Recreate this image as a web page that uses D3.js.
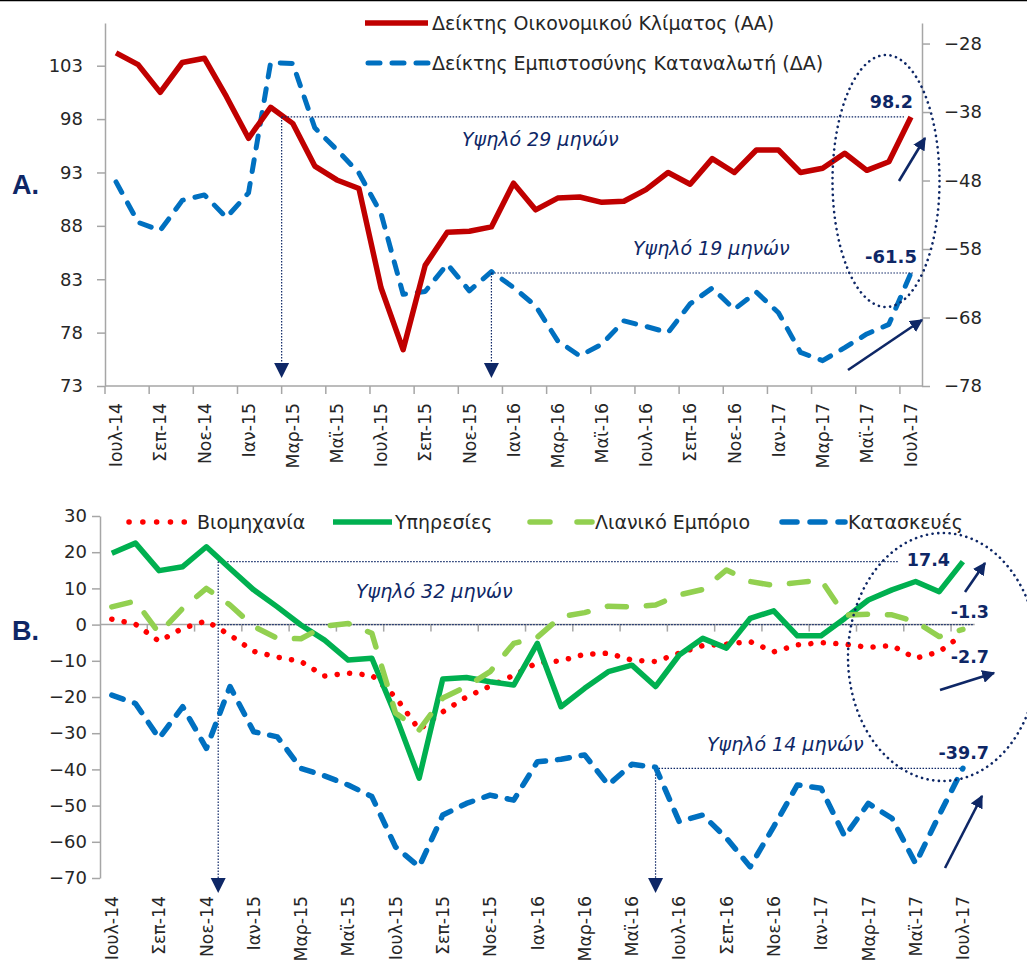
<!DOCTYPE html>
<html><head><meta charset="utf-8">
<script src="https://cdn.jsdelivr.net/npm/d3@7"></script>
<style>
body{margin:0;background:#fff}
svg{display:block}
text{font-family:"DejaVu Sans",sans-serif}
</style>
</head><body>
<svg id="chart" width="1027" height="963"></svg>
<script>
// ---------- DATA ----------
const months = ["Ιουλ-14","Αυγ-14","Σεπ-14","Οκτ-14","Νοε-14","Δεκ-14","Ιαν-15","Φεβ-15","Μαρ-15","Απρ-15","Μαϊ-15","Ιουν-15",
"Ιουλ-15","Αυγ-15","Σεπ-15","Οκτ-15","Νοε-15","Δεκ-15","Ιαν-16","Φεβ-16","Μαρ-16","Απρ-16","Μαϊ-16","Ιουν-16",
"Ιουλ-16","Αυγ-16","Σεπ-16","Οκτ-16","Νοε-16","Δεκ-16","Ιαν-17","Φεβ-17","Μαρ-17","Απρ-17","Μαϊ-17","Ιουν-17","Ιουλ-17"];

// Panel A
const econClimate = [104.2,103.1,100.5,103.3,103.7,100.1,96.2,99.1,97.6,93.6,92.3,91.5,
82.2,76.4,84.3,87.4,87.5,87.9,92.0,89.5,90.6,90.7,90.2,90.3,
91.4,93.0,91.9,94.3,93.0,95.1,95.1,93.0,93.4,94.8,93.2,94.0,98.2];
const consumerConf = [-48.2,-54.1,-55.3,-50.9,-50.1,-53.4,-49.8,-30.8,-30.9,-40.3,-43.5,-46.9,
-52.8,-64.6,-64.2,-60.2,-64.1,-61.3,-63.6,-66.3,-71.4,-73.6,-71.9,-68.5,
-69.3,-70.2,-66.0,-63.7,-66.8,-64.3,-67.3,-73.1,-74.3,-72.4,-70.4,-69.0,-61.5];
const leftTicksA = [73,78,83,88,93,98,103];
const rightTicksA = [-78,-68,-58,-48,-38,-28];

// Panel B
const industry = [1.5,0.1,-4.6,-1.0,1.0,-2.9,-7.4,-9.0,-10.2,-14.2,-13.4,-14.0,
-20.0,-29.0,-24.1,-20.0,-17.0,-14.0,-10.5,-10.0,-8.2,-7.9,-9.8,-10.2,
-7.9,-5.8,-5.4,-4.7,-7.5,-5.6,-5.0,-5.4,-6.3,-5.8,-9.3,-7.5,-2.7];
const services = [19.7,22.5,14.9,16.0,21.5,15.5,9.6,4.9,-0.1,-4.3,-9.8,-9.3,
-25.0,-42.4,-15.0,-14.6,-15.8,-16.7,-5.2,-22.7,-17.6,-13.0,-11.2,-17.1,
-8.4,-3.8,-6.5,1.7,3.8,-3.1,-3.1,1.7,6.8,9.6,11.9,9.1,17.4];
const retail = [4.9,6.5,-2.4,4.5,10.0,5.4,-0.5,-3.8,-3.9,-0.4,0.3,-2.4,
-24.4,-29.1,-20.3,-17.1,-13.0,-5.2,-3.5,2.2,3.3,5.1,4.9,5.4,
8.2,9.7,15.1,11.9,10.8,11.6,12.3,2.6,2.9,2.7,0.8,-3.3,-1.3];
const construction = [-19.5,-21.8,-31.4,-22.7,-34.2,-17.1,-29.6,-31.0,-39.7,-41.8,-44.3,-47.5,
-61.4,-66.9,-52.6,-49.4,-47.1,-48.5,-37.9,-37.2,-36.0,-44.3,-38.6,-39.4,
-54.4,-52.6,-59.0,-66.9,-55.8,-44.3,-45.2,-58.5,-49.4,-53.5,-66.0,-52.6,-39.7];
const ticksB = [-70,-60,-50,-40,-30,-20,-10,0,10,20,30];

const legendA = ["Δείκτης Οικονομικού Κλίματος (ΑΑ)","Δείκτης Εμπιστοσύνης Καταναλωτή (ΔΑ)"];
const legendB = ["Βιομηχανία","Υπηρεσίες","Λιανικό Εμπόριο","Κατασκευές"];

// ---------- STYLE ----------
const NAVY = "#0E2766";
const AXIS = "#A6A6A6";
const TXT = "#262626";
const FONT = "DejaVu Sans";

const svg = d3.select("#chart");
svg.append("line").attr("x1",0).attr("x2",1027).attr("y1",0.5).attr("y2",0.5).attr("stroke","#000").attr("stroke-width",1.5);

const defs = svg.append("defs");
defs.append("marker").attr("id","arr").attr("viewBox","0 0 10 10").attr("refX",9).attr("refY",5)
  .attr("markerWidth",5).attr("markerHeight",5).attr("orient","auto").attr("markerUnits","strokeWidth")
  .append("path").attr("d","M0,0 L10,5 L0,10 Z").attr("fill",NAVY);

function downTri(g, x, yTip){
  g.append("path").attr("d",`M${x-7.5},${yTip-15} L${x+7.5},${yTip-15} L${x},${yTip} Z`).attr("fill",NAVY);
}
function dotted(g, x1,y1,x2,y2){
  g.append("line").attr("x1",x1).attr("y1",y1).attr("x2",x2).attr("y2",y2)
    .attr("stroke",NAVY).attr("stroke-width",1.2).attr("stroke-dasharray","1.5,1.5");
}
function ellipse(g,cx,cy,rx,ry){
  g.append("ellipse").attr("cx",cx).attr("cy",cy).attr("rx",rx).attr("ry",ry)
    .attr("fill","none").attr("stroke",NAVY).attr("stroke-width",2.6)
    .attr("stroke-linecap","round").attr("stroke-dasharray","0.1,5.6");
}
function arrow(g,x1,y1,x2,y2){
  g.append("line").attr("x1",x1).attr("y1",y1).attr("x2",x2).attr("y2",y2)
    .attr("stroke",NAVY).attr("stroke-width",2.6).attr("marker-end","url(#arr)");
}

// ================= PANEL A =================
const xA = d3.scaleBand().domain(months).range([105, 922]);
const yL = d3.scaleLinear().domain([73,107]).range([386,23]);
const yR = d3.scaleLinear().domain([-78,-25]).range([386,23]);
const cA = m => xA(m) + xA.bandwidth()/2;

const gA = svg.append("g");

const axL = gA.append("g").attr("transform","translate(105,0)")
  .call(d3.axisLeft(yL).tickValues(leftTicksA).tickSize(8).tickPadding(14).tickSizeOuter(0));
const axR = gA.append("g").attr("transform","translate(922,0)")
  .call(d3.axisRight(yR).tickValues(rightTicksA).tickSize(8).tickPadding(14).tickSizeOuter(0));
[axL,axR].forEach(a=>{
  a.select(".domain").attr("stroke",AXIS).attr("stroke-width",1.5);
  a.selectAll(".tick line").attr("stroke",AXIS).attr("stroke-width",1.5);
  a.selectAll(".tick text").attr("fill",TXT).style("font-family",FONT).style("font-size","18px");
});
gA.append("line").attr("x1",105).attr("x2",922).attr("y1",yL(73)).attr("y2",yL(73)).attr("stroke",AXIS).attr("stroke-width",1.5);
const evenA = months.filter((m,i)=>i%2===0);
gA.selectAll(".xtA").data(evenA).enter().append("line")
  .attr("x1",d=>xA(d)).attr("x2",d=>xA(d)).attr("y1",yL(73)).attr("y2",yL(73)+8)
  .attr("stroke",AXIS).attr("stroke-width",1.5);
gA.selectAll(".xlA").data(evenA).enter().append("text")
  .attr("transform",d=>`translate(${cA(d)},403) rotate(-90)`)
  .attr("text-anchor","end").attr("dy","0.36em")
  .attr("fill",TXT).style("font-size","17.3px").text(d=>d);

const lineL = d3.line().x((d,i)=>cA(months[i])).y(d=>yL(d));
const lineR = d3.line().x((d,i)=>cA(months[i])).y(d=>yR(d));
gA.append("path").datum(consumerConf).attr("d",lineR).attr("fill","none")
  .attr("stroke","#0070C0").attr("stroke-width",5).attr("stroke-linecap","round")
  .attr("stroke-linejoin","round").attr("stroke-dasharray","12,12");
gA.append("path").datum(econClimate).attr("d",lineL).attr("fill","none")
  .attr("stroke","#C00000").attr("stroke-width",5.5).attr("stroke-linejoin","round");

const xHighA = xA("Μαρ-15");
dotted(gA, xHighA, yL(98.2), cA("Ιουλ-17")-7, yL(98.2));
dotted(gA, xHighA, yL(98.2), xHighA, 364);
downTri(gA, xHighA, 378);
const xHighA2 = cA("Δεκ-15");
dotted(gA, xHighA2, yR(-61.5), cA("Ιουλ-17")+3, yR(-61.5));
dotted(gA, xHighA2, yR(-61.5), xHighA2, 364);
downTri(gA, xHighA2, 378);

gA.append("text").attr("x",462).attr("y",146).attr("fill",NAVY).style("font-style","italic").style("font-size","19px").text("Υψηλό 29 μηνών");
gA.append("text").attr("x",633).attr("y",255).attr("fill",NAVY).style("font-style","italic").style("font-size","19px").text("Υψηλό 19 μηνών");
gA.append("text").attr("x",cA("Ιουλ-17")+2).attr("y",yL(98.2)-9).attr("text-anchor","end").attr("fill",NAVY)
  .style("font-weight","bold").style("font-size","17.5px").text("98.2");
gA.append("text").attr("x",cA("Ιουλ-17")+6).attr("y",yR(-61.5)-10).attr("text-anchor","end").attr("fill",NAVY)
  .style("font-weight","bold").style("font-size","18px").text("-61.5");
ellipse(gA, 886, 181, 53.5, 126);
arrow(gA, 899, 181, 925, 138);
arrow(gA, 848, 370, 922, 320);

gA.append("text").attr("x",12).attr("y",194).attr("fill",NAVY)
  .style("font-family","Liberation Sans").style("font-weight","bold").style("font-size","27px").text("A.");

gA.append("line").attr("x1",365).attr("x2",428).attr("y1",23).attr("y2",23).attr("stroke","#C00000").attr("stroke-width",5.5);
gA.append("text").attr("x",432).attr("y",29.5).attr("fill",TXT).style("font-size","19px").text(legendA[0]);
gA.append("line").attr("x1",368).attr("x2",428).attr("y1",63).attr("y2",63).attr("stroke","#0070C0").attr("stroke-width",5)
  .attr("stroke-linecap","round").attr("stroke-dasharray","12,12");
gA.append("text").attr("x",432).attr("y",69.5).attr("fill",TXT).style("font-size","19px").text(legendA[1]);

// ================= PANEL B =================
const xB = d3.scaleBand().domain(months).range([100, 974.7]);
const yB = d3.scaleLinear().domain([-70,30]).range([878,516]);
const cB = m => xB(m) + xB.bandwidth()/2;
const gB = svg.append("g");

const axB = gB.append("g").attr("transform","translate(100,0)")
  .call(d3.axisLeft(yB).tickValues(ticksB).tickSize(8).tickPadding(5).tickSizeOuter(0));
axB.select(".domain").attr("stroke",AXIS).attr("stroke-width",1.5);
axB.selectAll(".tick line").attr("stroke",AXIS).attr("stroke-width",1.5);
axB.selectAll(".tick text").attr("fill",TXT).style("font-family",FONT).style("font-size","18px");

const y0 = yB(0);
gB.append("line").attr("x1",100).attr("x2",974.7).attr("y1",y0).attr("y2",y0).attr("stroke",AXIS).attr("stroke-width",1.5);
gB.selectAll(".xtB").data(evenA.slice(1)).enter().append("line")
  .attr("x1",d=>xB(d)).attr("x2",d=>xB(d)).attr("y1",y0).attr("y2",y0+7)
  .attr("stroke",AXIS).attr("stroke-width",1.5);
gB.selectAll(".xlB").data(evenA).enter().append("text")
  .attr("transform",d=>`translate(${cB(d)},896) rotate(-90)`)
  .attr("text-anchor","end").attr("dy","0.36em")
  .attr("fill",TXT).style("font-size","17.3px").text(d=>d);

const xHighB = xB("Δεκ-14");
dotted(gB, xHighB, y0, 973, y0);
dotted(gB, xHighB, yB(17.4), 898, yB(17.4));
dotted(gB, xHighB, yB(17.4), xHighB, 879);
downTri(gB, xHighB, 893);
const xHighB2 = cB("Ιουν-16");
dotted(gB, xHighB2, yB(-39.7), cB("Ιουλ-17")-2, yB(-39.7));
dotted(gB, xHighB2, yB(-39.7), xHighB2, 879);
downTri(gB, xHighB2, 893);

const lineB = d3.line().x((d,i)=>cB(months[i])).y(d=>yB(d));
gB.append("path").datum(industry).attr("d",lineB).attr("fill","none")
  .attr("stroke","#FF0000").attr("stroke-width",5.5).attr("stroke-linecap","round")
  .attr("stroke-dasharray","0.1,12.4");
gB.append("path").datum(services).attr("d",lineB).attr("fill","none")
  .attr("stroke","#00B050").attr("stroke-width",5.5).attr("stroke-linejoin","round");
gB.append("path").datum(retail).attr("d",lineB).attr("fill","none")
  .attr("stroke","#92D050").attr("stroke-width",5.5).attr("stroke-linecap","round")
  .attr("stroke-linejoin","round").attr("stroke-dasharray","19,20");
gB.append("path").datum(construction).attr("d",lineB).attr("fill","none")
  .attr("stroke","#0070C0").attr("stroke-width",5.5).attr("stroke-linecap","round")
  .attr("stroke-linejoin","round").attr("stroke-dasharray","12,12");

gB.append("text").attr("x",356).attr("y",598).attr("fill",NAVY).style("font-style","italic").style("font-size","19px").text("Υψηλό 32 μηνών");
gB.append("text").attr("x",707).attr("y",751).attr("fill",NAVY).style("font-style","italic").style("font-size","19px").text("Υψηλό 14 μηνών");
gB.append("text").attr("x",950).attr("y",yB(17.4)+4).attr("text-anchor","end").attr("fill",NAVY).style("font-weight","bold").style("font-size","17.5px").text("17.4");
gB.append("text").attr("x",989).attr("y",618).attr("text-anchor","end").attr("fill",NAVY).style("font-weight","bold").style("font-size","17.5px").text("-1.3");
gB.append("text").attr("x",989).attr("y",663).attr("text-anchor","end").attr("fill",NAVY).style("font-weight","bold").style("font-size","17.5px").text("-2.7");
gB.append("text").attr("x",989).attr("y",yB(-39.7)-9).attr("text-anchor","end").attr("fill",NAVY).style("font-weight","bold").style("font-size","17.5px").text("-39.7");
ellipse(gB, 943, 657, 95, 124);
arrow(gB, 965, 592, 985, 563);
arrow(gB, 940, 690, 994, 673);
arrow(gB, 945, 868, 982, 796);

gB.append("text").attr("x",12).attr("y",640).attr("fill",NAVY)
  .style("font-family","Liberation Sans").style("font-weight","bold").style("font-size","27px").text("B.");

const ly = 522, lty = 528.5;
gB.append("line").attr("x1",129).attr("x2",185).attr("y1",ly).attr("y2",ly).attr("stroke","#FF0000").attr("stroke-width",5.5)
  .attr("stroke-linecap","round").attr("stroke-dasharray","0.1,13.7");
gB.append("text").attr("x",197).attr("y",lty).attr("fill",TXT).style("font-size","19px").text(legendB[0]);
gB.append("line").attr("x1",333).attr("x2",392).attr("y1",ly).attr("y2",ly).attr("stroke","#00B050").attr("stroke-width",5.5);
gB.append("text").attr("x",395).attr("y",lty).attr("fill",TXT).style("font-size","19px").text(legendB[1]);
gB.append("line").attr("x1",530).attr("x2",592).attr("y1",ly).attr("y2",ly).attr("stroke","#92D050").attr("stroke-width",5.5)
  .attr("stroke-linecap","round").attr("stroke-dasharray","20,27");
gB.append("text").attr("x",595).attr("y",lty).attr("fill",TXT).style("font-size","19px").text(legendB[2]);
gB.append("line").attr("x1",782).attr("x2",845).attr("y1",ly).attr("y2",ly).attr("stroke","#0070C0").attr("stroke-width",5.5)
  .attr("stroke-linecap","round").attr("stroke-dasharray","15,13");
gB.append("text").attr("x",848).attr("y",lty).attr("fill",TXT).style("font-size","19px").text(legendB[3]);
</script>
</body></html>
